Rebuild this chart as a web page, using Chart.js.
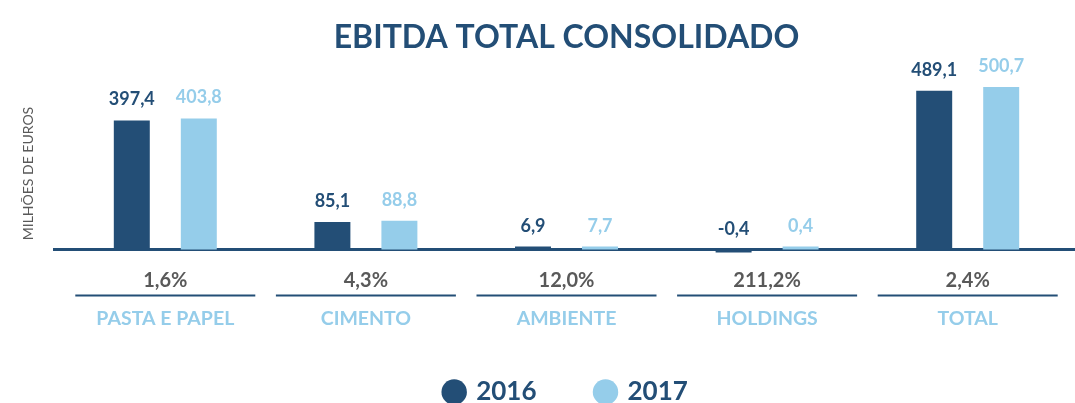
<!DOCTYPE html>
<html>
<head>
<meta charset="utf-8">
<script src="https://cdn.jsdelivr.net/npm/chart.js@4"></script>
<style>
  html, body { margin: 0; padding: 0; background: #fff; overflow: hidden; }
  #wrap { width: 1075px; height: 415px; position: relative; }
</style>
</head>
<body>
<div id="wrap"><canvas id="ebitda"></canvas></div>
<script>
// data
var categorias = ['PASTA E PAPEL', 'CIMENTO', 'AMBIENTE', 'HOLDINGS', 'TOTAL'];
var ebitda2016 = [397.4, 85.1, 6.9, -0.4, 489.1];
var ebitda2017 = [403.8, 88.8, 7.7, 0.4, 500.7];
var variacao = [1.6, 4.3, 12.0, 211.2, 2.4];

var azulEscuro = '#234e76';
var azulClaro = '#95cdea';
var cinza = '#595959';
var fonte = 'Lato, "Open Sans", sans-serif';

function virgula(v, suf) {
  return v.toFixed(1).replace('.', ',') + (suf || '');
}

// draws baseline, value labels, % variation, category names, y title
var extras = {
  id: 'extras',
  beforeDatasetsDraw: function(chart) {
    var ctx = chart.ctx;
    var y0 = chart.scales.y.getPixelForValue(0);
    ctx.save();
    ctx.strokeStyle = azulEscuro;
    ctx.lineWidth = 3;
    ctx.beginPath();
    ctx.moveTo(53, y0);
    ctx.lineTo(chart.width, y0);
    ctx.stroke();
    ctx.restore();
  },
  afterDatasetsDraw: function(chart) {
    var ctx = chart.ctx;
    var ys = chart.scales.y, xs = chart.scales.x;
    var y0 = ys.getPixelForValue(0);
    ctx.save();
    ctx.textAlign = 'center';
    ctx.textBaseline = 'alphabetic';
    ctx.font = 'bold 18px ' + fonte;
    chart.data.datasets.forEach(function(ds, di) {
      var meta = chart.getDatasetMeta(di);
      meta.data.forEach(function(bar, i) {
        var top = Math.min(bar.y, y0);
        ctx.fillStyle = ds.backgroundColor;
        ctx.fillText(virgula(ds.data[i]), bar.x, top - 15);
      });
    });

    categorias.forEach(function(c, i) {
      var cx = xs.getPixelForValue(i);
      ctx.textBaseline = 'middle';
      ctx.fillStyle = cinza;
      ctx.font = 'bold 20px ' + fonte;
      ctx.fillText(virgula(variacao[i], '%'), cx, y0 + 31);
      ctx.strokeStyle = azulEscuro;
      ctx.lineWidth = 2;
      ctx.beginPath();
      ctx.moveTo(cx - 90, y0 + 46);
      ctx.lineTo(cx + 90, y0 + 46);
      ctx.stroke();
      ctx.fillStyle = azulClaro;
      ctx.font = 'bold 19.5px ' + fonte;
      ctx.fillText(c, cx, y0 + 69);
    });

    ctx.translate(28, y0 - 76);
    ctx.rotate(-Math.PI / 2);
    ctx.textBaseline = 'middle';
    ctx.fillStyle = cinza;
    ctx.font = '14px ' + fonte;
    ctx.fillText('MILHÕES DE EUROS', 0, 0);
    ctx.restore();
  }
};

new Chart(document.getElementById('ebitda'), {
  type: 'bar',
  data: {
    labels: categorias,
    datasets: [
      { label: '2016', data: ebitda2016, backgroundColor: azulEscuro },
      { label: '2017', data: ebitda2017, backgroundColor: azulClaro }
    ]
  },
  options: {
    responsive: true,
    maintainAspectRatio: false,
    animation: false,
    categoryPercentage: 0.668,
    barPercentage: 0.537,
    minBarLength: 3,
    layout: { padding: { left: 65, right: 7, top: 6, bottom: 0 } },
    scales: {
      x: { display: false },
      y: { display: false, min: -214, max: 564 }
    },
    plugins: {
      title: {
        display: true,
        text: 'EBITDA TOTAL CONSOLIDADO',
        color: azulEscuro,
        font: { family: fonte, size: 32, weight: 'bold' },
        padding: { top: 12, bottom: 10 }
      },
      legend: {
        position: 'bottom',
        labels: {
          usePointStyle: true,
          pointStyle: 'circle',
          boxWidth: 18,
          boxHeight: 18,
          padding: 60,
          color: azulEscuro,
          font: { family: fonte, size: 26, weight: 'bold' }
        }
      },
      tooltip: { enabled: false }
    }
  },
  plugins: [extras]
});
</script>
</body>
</html>
